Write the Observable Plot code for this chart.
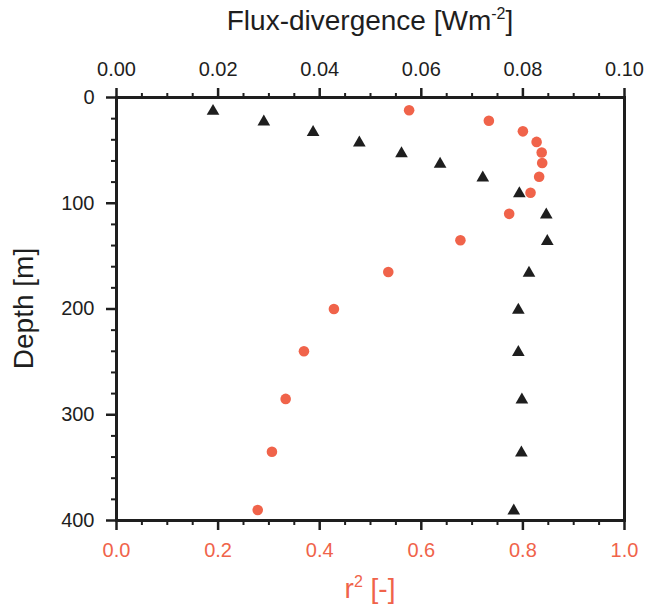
<!DOCTYPE html>
<html>
<head>
<meta charset="utf-8">
<script src="https://cdn.jsdelivr.net/npm/d3@7"></script>
<script src="https://cdn.jsdelivr.net/npm/@observablehq/plot@0.6"></script>
<style>
  html, body { margin: 0; padding: 0; background: #fff; }
  svg { display: block; }
</style>
</head>
<body>
<div id="chart"></div>
<script>
// ---- data ----
const depths = [12, 22, 32, 42, 52, 62, 75, 90, 110, 135, 165, 200, 240, 285, 335, 390];
const fluxDivergence = [0.0190, 0.0290, 0.0387, 0.0478, 0.0561, 0.0637, 0.0721, 0.0793, 0.0846, 0.0848, 0.0812, 0.0791, 0.0791, 0.0798, 0.0797, 0.0782];
const r2 = [0.576, 0.733, 0.800, 0.827, 0.837, 0.838, 0.832, 0.815, 0.773, 0.677, 0.535, 0.428, 0.369, 0.333, 0.306, 0.278];
const fluxTicks = [0.00, 0.02, 0.04, 0.06, 0.08, 0.10];
const r2Ticks = [0.0, 0.2, 0.4, 0.6, 0.8, 1.0];
const depthTicks = [0, 100, 200, 300, 400];
const r2MinorTicks = [0.05, 0.1, 0.15, 0.25, 0.3, 0.35, 0.45, 0.5, 0.55, 0.65, 0.7, 0.75, 0.85, 0.9, 0.95];
const depthMinorTicks = [20, 40, 60, 80, 120, 140, 160, 180, 220, 240, 260, 280, 320, 340, 360, 380];

// flux-divergence axis (0–0.10) shares the frame with the r² axis (0–1.0)
const fluxToR2 = 10;

const rows = depths.map((d, i) => ({depth: d, flux: fluxDivergence[i], r2: r2[i]}));

const orange = "#f0634a";
const ink = "#1e1e1e";
const font = "'Liberation Sans', Arial, Helvetica, sans-serif";

const svg = Plot.plot({
  width: 645,
  height: 610,
  marginTop: 97,
  marginBottom: 90,
  marginLeft: 116,
  marginRight: 21,
  style: {fontFamily: font, fontSize: "20px", background: "#fff", color: ink},
  x: {domain: [0, 1], axis: null},
  y: {domain: [0, 400], reverse: true, axis: null},
  marks: [
    // bottom (r²) axis
    Plot.axisX(r2MinorTicks, {anchor: "bottom", label: null, tickSize: 5, strokeWidth: 2, stroke: ink, tickFormat: () => ""}),
    Plot.axisX(r2Ticks, {anchor: "bottom", label: null, tickSize: 10, tickPadding: 12, strokeWidth: 2.5, stroke: ink, fill: orange, fontSize: 20, tickFormat: d => d.toFixed(1)}),
    // top (flux-divergence) axis
    Plot.axisX(r2MinorTicks, {anchor: "top", label: null, tickSize: 5, strokeWidth: 2, stroke: ink, tickFormat: () => ""}),
    Plot.axisX(fluxTicks.map(f => f * fluxToR2), {anchor: "top", label: null, tickSize: 10, tickPadding: 12, strokeWidth: 2.5, stroke: ink, fill: ink, fontSize: 20, tickFormat: d => (d / fluxToR2).toFixed(2)}),
    // depth axis
    Plot.axisY(depthMinorTicks, {anchor: "left", label: null, tickSize: 5, strokeWidth: 2, stroke: ink, tickFormat: () => ""}),
    Plot.axisY(depthTicks, {anchor: "left", label: null, tickSize: 10, tickPadding: 12, strokeWidth: 2.5, stroke: ink, fill: ink, fontSize: 20, tickFormat: d => String(d)}),
    Plot.frame({stroke: ink, strokeWidth: 3}),
    // data
    Plot.dot(rows, {x: d => d.flux * fluxToR2, y: "depth", dy: 1, symbol: "triangle", r: 4.7, fill: ink, stroke: "none"}),
    Plot.dot(rows, {x: "r2", y: "depth", r: 5.3, fill: orange, stroke: "none"})
  ]
});

document.getElementById("chart").appendChild(svg);

// axis titles with real superscripts
const sel = d3.select(svg);
const cx = 116 + (645 - 116 - 21) / 2;

const topTitle = sel.append("text")
  .attr("x", cx).attr("y", 30)
  .attr("text-anchor", "middle")
  .attr("font-family", font).attr("font-size", 28).attr("fill", ink);
topTitle.append("tspan").text("Flux-divergence [Wm");
topTitle.append("tspan").attr("font-size", 16).attr("dy", -11).text("-2");
topTitle.append("tspan").attr("dy", 11).text("]");

const bottomTitle = sel.append("text")
  .attr("x", cx).attr("y", 598)
  .attr("text-anchor", "middle")
  .attr("font-family", font).attr("font-size", 28).attr("fill", orange);
bottomTitle.append("tspan").text("r");
bottomTitle.append("tspan").attr("font-size", 16).attr("dy", -11).text("2");
bottomTitle.append("tspan").attr("dy", 11).text(" [-]");

sel.append("text")
  .attr("transform", `translate(33, ${(97 + 520) / 2}) rotate(-90)`)
  .attr("text-anchor", "middle")
  .attr("font-family", font).attr("font-size", 28).attr("fill", ink)
  .text("Depth [m]");
</script>
</body>
</html>
